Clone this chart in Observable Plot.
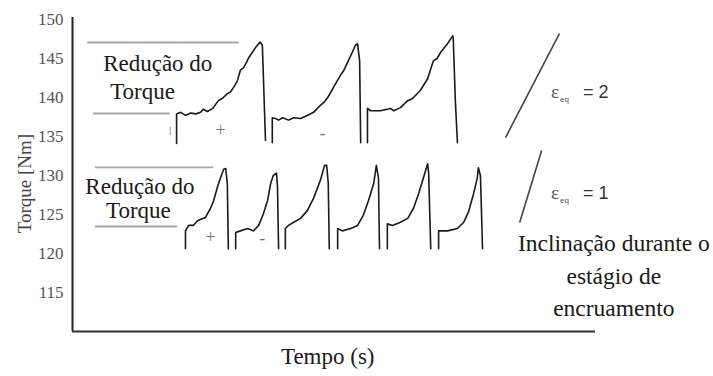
<!DOCTYPE html>
<html>
<head>
<meta charset="utf-8">
<script src="https://cdn.jsdelivr.net/npm/d3@7"></script>
<script src="https://cdn.jsdelivr.net/npm/@observablehq/plot@0.6"></script>
<style>
  html, body { margin: 0; padding: 0; background: #fff; }
</style>
</head>
<body>
<div id="chart"></div>
<script>
// ---- Data (time in arbitrary units 0..100, torque in Nm) ----
const yTicks = [115, 120, 125, 130, 135, 140, 145, 150];

// εeq = 2 series (three cycles)
const upperTime = [
  19.9, 19.9, 20.7, 21.6, 22.6, 23.6, 24.5, 25.0, 25.8, 26.8, 27.9, 28.7, 29.6, 30.2, 30.8, 31.5, 32.1, 32.7, 33.2, 33.7, 34.4, 35.0, 35.6, 35.9, 36.3, 36.9,
  38.2, 38.2, 38.8, 39.4, 40.2, 41.3, 42.3, 43.6, 44.9, 46.1, 47.4, 48.1, 48.8, 49.9, 51.2, 51.9, 52.6, 53.5, 54.1, 54.5, 54.9, 55.1,
  56.4, 56.4, 57.0, 58.9, 60.8, 61.4, 62.7, 64.1, 64.6, 65.2, 66.5, 67.9, 69.0, 69.7, 70.4, 71.7, 72.7, 72.8, 73.2, 73.6
];
const upperTorque = [
  134.1, 137.9, 138.1, 137.7, 138.0, 137.9, 138.1, 138.5, 138.2, 138.6, 139.6, 139.9, 140.5, 140.7, 141.3, 142.1, 143.5, 143.8, 144.4, 145.1, 145.8, 146.4, 146.9, 147.1, 146.7, 134.5,
  134.2, 137.4, 137.3, 137.1, 137.4, 137.1, 137.4, 137.3, 137.7, 138.1, 139.0, 139.4, 140.0, 141.3, 142.8, 143.5, 144.5, 145.8, 146.7, 146.9, 144.7, 134.2,
  134.2, 138.6, 138.3, 138.3, 138.6, 138.3, 138.7, 139.6, 139.7, 140.0, 140.9, 142.4, 144.7, 145.0, 145.8, 146.9, 147.9, 147.6, 139.6, 134.2
];
const upperCycle = [
  1,1,1,1,1,1,1,1,1,1,1,1,1,1,1,1,1,1,1,1,1,1,1,1,1,1,
  2,2,2,2,2,2,2,2,2,2,2,2,2,2,2,2,2,2,2,2,2,2,
  3,3,3,3,3,3,3,3,3,3,3,3,3,3,3,3,3,3,3,3
];

// εeq = 1 series (six cycles)
const lowerTime = [
  21.6, 21.6, 22.2, 23.1, 23.9, 24.9, 25.4, 26.4, 27.0, 27.7, 28.3, 28.9, 29.3, 29.6, 29.8,
  31.2, 31.2, 32.1, 33.5, 34.6, 35.6, 36.5, 37.3, 37.9, 38.4, 39.0, 39.2, 39.4,
  40.7, 40.7, 41.3, 42.3, 43.6, 44.9, 46.1, 47.4, 48.2, 48.6, 48.9, 49.1,
  50.7, 50.7, 51.6, 53.2, 54.5, 55.6, 56.6, 57.6, 58.1, 58.5, 58.7,
  60.2, 60.2, 61.2, 62.7, 64.1, 65.2, 66.2, 67.1, 67.9, 68.1, 68.5,
  70.0, 70.0, 71.7, 73.6, 74.8, 75.7, 76.7, 77.4, 77.6, 78.0, 78.4
];
const lowerTorque = [
  120.6, 122.9, 123.6, 123.6, 124.2, 124.5, 124.6, 125.8, 126.8, 128.5, 129.7, 130.8, 130.9, 129.0, 120.6,
  120.6, 122.7, 122.9, 123.2, 122.9, 123.6, 125.1, 126.8, 129.0, 130.0, 130.3, 128.5, 120.6,
  120.6, 123.2, 123.6, 124.0, 124.5, 125.5, 127.1, 129.4, 131.3, 131.3, 129.0, 120.6,
  120.6, 123.2, 122.9, 123.2, 123.6, 124.9, 126.8, 129.0, 131.3, 129.7, 120.6,
  120.6, 123.8, 123.6, 124.0, 124.5, 125.8, 127.7, 129.7, 131.5, 130.3, 120.6,
  120.6, 122.9, 122.9, 123.2, 124.0, 125.3, 127.7, 129.7, 131.0, 130.0, 120.6
];
const lowerCycle = [
  1,1,1,1,1,1,1,1,1,1,1,1,1,1,1,
  2,2,2,2,2,2,2,2,2,2,2,2,2,
  3,3,3,3,3,3,3,3,3,3,3,3,
  4,4,4,4,4,4,4,4,4,4,4,
  5,5,5,5,5,5,5,5,5,5,5,
  6,6,6,6,6,6,6,6,6,6,6
];

// Annotation guide lines (torque level, time start, time end)
const guideTorque = [147.05, 137.95, 131.03, 123.46];
const guideStart  = [2.9, 4.0, 4.4, 4.4];
const guideEnd    = [31.9, 18.7, 27.0, 20.1];

// Slope indicator segments
const slopeX1 = [82.8, 85.5];
const slopeY1 = [134.87, 123.97];
const slopeX2 = [93.1, 89.7];
const slopeY2 = [148.2, 133.2];

// Text annotations
const reducLabels = ["Redução do", "Torque", "Redução do", "Torque"];
const reducTime   = [16.3, 13.4, 12.9, 12.6];
const reducTorque = [143.46, 139.87, 127.69, 124.49];

const signLabels = ["+", "-", "+", "-"];
const signTime   = [28.3, 47.8, 26.4, 36.3];
const signTorque = [135.77, 135.4, 122.05, 121.9];

const epsValues = ["2", "1"];
const epsTime   = [91.5, 91.5];
const epsTorque = [140.0, 127.05];

const slopeLabel  = ["Inclinação durante o", "estágio de", "encruamento"];
const slopeTime   = [103.5, 103.5, 103.5];
const slopeTorque = [120.38, 116.15, 112.05];

// ---- Build tables ----
const upper = upperTime.map((t, i) => ({t, v: upperTorque[i], c: upperCycle[i]}));
const lower = lowerTime.map((t, i) => ({t, v: lowerTorque[i], c: lowerCycle[i]}));
const guides = guideTorque.map((v, i) => ({v, a: guideStart[i], b: guideEnd[i]}));
const slopes = slopeX1.map((x, i) => ({x1: x, y1: slopeY1[i], x2: slopeX2[i], y2: slopeY2[i]}));
const reduc = reducLabels.map((s, i) => ({s, t: reducTime[i], v: reducTorque[i]}));
const signs = signLabels.map((s, i) => ({s, t: signTime[i], v: signTorque[i]}));
const eps = epsValues.map((s, i) => ({s, t: epsTime[i], v: epsTorque[i]}));
const slopeTxt = slopeLabel.map((s, i) => ({s, t: slopeTime[i], v: slopeTorque[i]}));

const serif = "'Liberation Serif', 'Times New Roman', serif";
const sans = "'Liberation Sans', Arial, sans-serif";

const chart = Plot.plot({
  width: 713,
  height: 376,
  marginLeft: 72,
  marginRight: 118,
  marginTop: 19,
  marginBottom: 45,
  style: {background: "#fff", fontFamily: serif, overflow: "visible"},
  x: {domain: [0, 100], axis: null},
  y: {domain: [110, 150], axis: null},
  marks: [
    Plot.axisY({ticks: yTicks, tickSize: 0, tickPadding: 9, fontSize: 17, fill: "#555", label: null, fontFamily: serif}),
    Plot.ruleX([0], {y1: 110, y2: 150.25, stroke: "#222", strokeWidth: 2}),
    Plot.ruleY([110], {x1: 0, x2: 100, stroke: "#333", strokeWidth: 2}),
    Plot.ruleY(guides, {y: "v", x1: "a", x2: "b", stroke: "#a8a8a8", strokeWidth: 1.8}),
    Plot.ruleX([18.7], {y1: 135.1, y2: 136.2, stroke: "#bbb", strokeWidth: 1.5}),
    Plot.line(upper, {x: "t", y: "v", z: "c", stroke: "#1a1a1a", strokeWidth: 1.6, curve: "linear"}),
    Plot.line(lower, {x: "t", y: "v", z: "c", stroke: "#1a1a1a", strokeWidth: 1.6, curve: "linear"}),
    Plot.link(slopes, {x1: "x1", y1: "y1", x2: "x2", y2: "y2", stroke: "#444", strokeWidth: 1.6}),
    Plot.text(reduc, {x: "t", y: "v", text: "s", lineAnchor: "bottom", fontSize: 23, fill: "#1a1a1a", fontFamily: serif}),
    Plot.text(signs, {x: "t", y: "v", text: "s", fontSize: 18, fill: "#777", fontFamily: serif}),
    Plot.text(eps, {x: "t", y: "v", text: () => "ε", textAnchor: "start", lineAnchor: "bottom", fontSize: 19, fill: "#555", fontFamily: serif}),
    Plot.text(eps, {x: "t", y: "v", text: () => "eq", textAnchor: "start", lineAnchor: "bottom", dx: 9, dy: 4, fontSize: 8, fill: "#555", fontFamily: sans}),
    Plot.text(eps, {x: "t", y: "v", text: d => "= " + d.s, textAnchor: "start", lineAnchor: "bottom", dx: 32, fontSize: 18, fill: "#333", fontFamily: sans}),
    Plot.text(slopeTxt, {x: "t", y: "v", text: "s", lineAnchor: "bottom", fontSize: 23.5, fill: "#1a1a1a", fontFamily: serif}),
    Plot.text(["Torque [Nm]"], {x: 0, y: 128.97, text: d => d, rotate: -90, dx: -48, fontSize: 19, fill: "#444", fontFamily: serif}),
    Plot.text(["Tempo (s)"], {x: 48.8, y: 105.77, text: d => d, lineAnchor: "bottom", fontSize: 23, fill: "#1a1a1a", fontFamily: serif})
  ]
});
document.getElementById("chart").appendChild(chart);
</script>
</body>
</html>
